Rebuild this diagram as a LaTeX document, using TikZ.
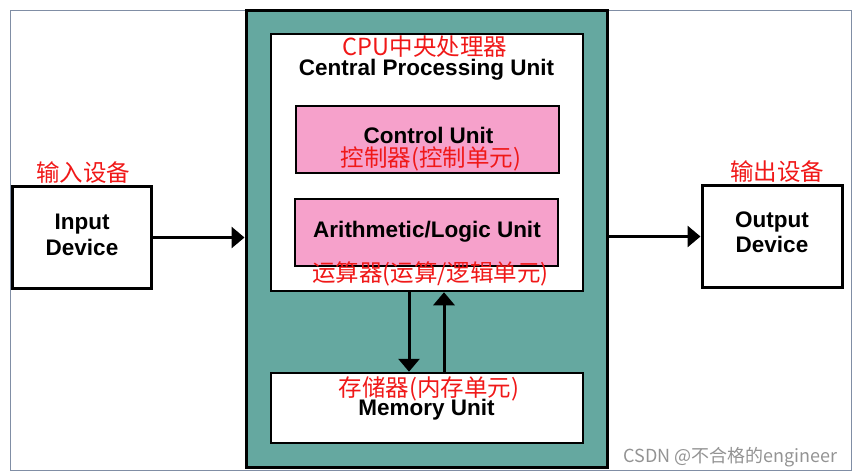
\documentclass[tikz,border=0pt]{standalone}
\usepackage{fontspec}
\setmainfont{Liberation Sans}
\newfontfamily\cjk{Noto Sans CJK SC}
\usetikzlibrary{arrows.meta}
\definecolor{cputeal}{RGB}{101,168,160}
\definecolor{unitpink}{RGB}{246,161,203}
\definecolor{labelred}{RGB}{240,24,24}
\definecolor{framegray}{RGB}{128,142,165}
\begin{document}
\begin{tikzpicture}[x=1pt,y=-1pt,
    box/.style={draw=black,rectangle,inner sep=0pt,line width=3pt},
    unit/.style={box,fill=unitpink,line width=2.2pt},
    eng/.style={font=\fontsize{22.5}{25.5}\selectfont\bfseries,align=center,inner sep=0pt,anchor=base},
    zh/.style={font=\fontsize{23.5}{26}\selectfont\cjk,text=labelred,inner sep=0pt,anchor=base},
    arr/.style={line width=3pt,-{Triangle[length=13pt,width=21pt]}}]
  \useasboundingbox (0,0) rectangle (855,476);
  \draw[framegray,line width=1pt] (10,11) rectangle (851,470);
  \node[box,fill=cputeal,minimum width=361pt,minimum height=456pt] (cpu) at (426.5,239) {};
  \node[box,fill=white,line width=2.5pt,minimum width=312pt,minimum height=257pt] (core) at (427,162.5) {};
  \node[unit,minimum width=263pt,minimum height=67pt] (cu) at (427.5,139.5) {};
  \node[unit,minimum width=263pt,minimum height=67pt] (alu) at (426.5,232.5) {};
  \node[box,fill=white,line width=2.5pt,minimum width=312pt,minimum height=70pt] (mem) at (427,408) {};
  \node[box,minimum width=139pt,minimum height=101pt] (in) at (81.5,237.5) {};
  \node[box,minimum width=140pt,minimum height=101pt] (out) at (772,236.5) {};

  \node[zh] (cputitle) at (425,55.5) {CPU中央处理器};
  \node[eng] (cpuname) at (426.5,76) {Central Processing Unit};
  \node[eng] (cuname) at (428.5,143.5) {Control Unit};
  \node[zh] (cuzh) at (431,167) {控制器(控制单元)};
  \node[eng] (aluname) at (427,238) {Arithmetic/Logic Unit};
  \node[zh] (aluzh) at (430.5,281) {运算器(运算/逻辑单元)};
  \node[zh] (memzh) at (429,396) {存储器(内存单元)};
  \node[eng] (memname) at (426.5,415) {Memory Unit};
  \node[zh] (inzh) at (83,181.5) {输入设备};
  \node[eng] (inname) at (82,255) {Input\\Device};
  \node[zh] (outzh) at (777,180.5) {输出设备};
  \node[eng] (outname) at (772,253) {Output\\Device};
  \node[font=\fontsize{18}{20}\selectfont\cjk,text=gray!85,inner sep=0pt,anchor=base] (mark) at (730.5,462) {CSDN @不合格的engineer};

  \begin{scope}[arr]
    \draw (in.east) -- (in.east -| cpu.west);
    \draw (out.west -| cpu.east) -- (out.west);
    \draw ([xshift=-18pt]core.south) -- ([xshift=-18pt]mem.north);
    \draw ([xshift=17pt]mem.north) -- ([xshift=17pt]core.south);
  \end{scope}
\end{tikzpicture}
\end{document}
